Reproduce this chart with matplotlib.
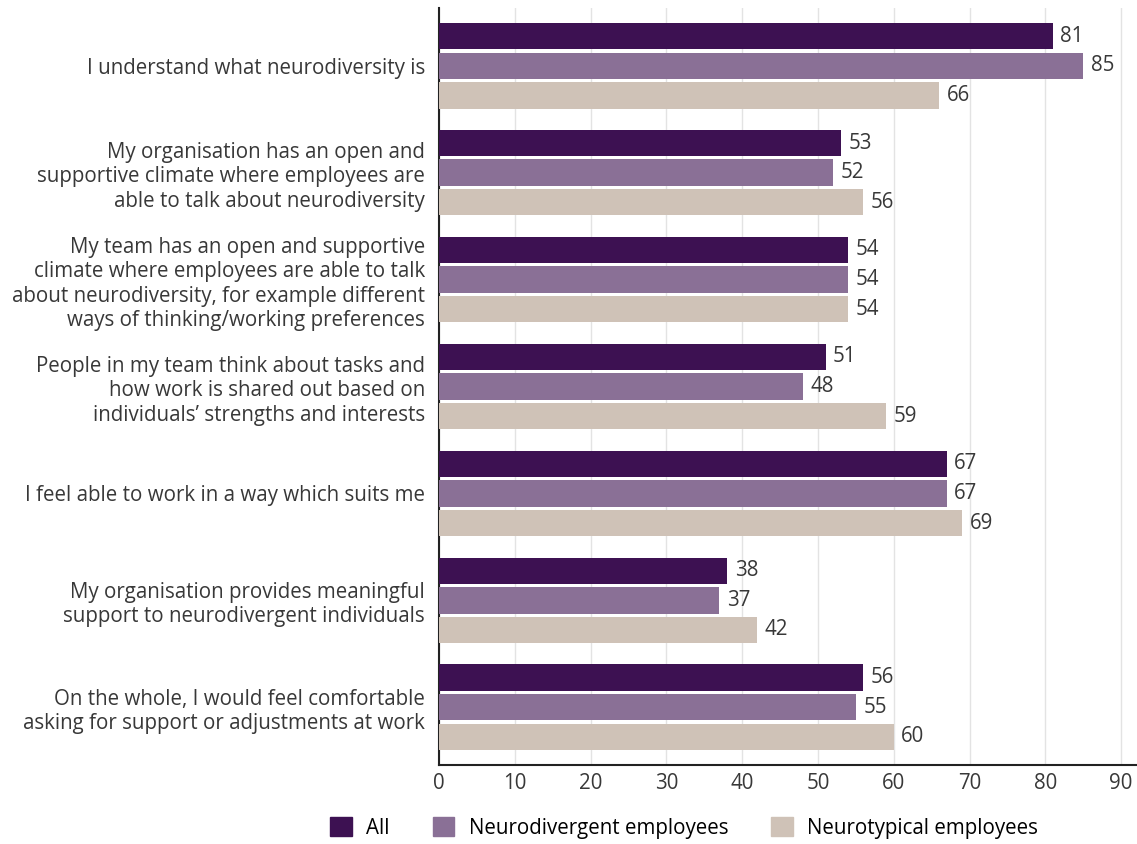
import matplotlib
matplotlib.use("Agg")
import matplotlib.pyplot as plt
from matplotlib.patches import Patch
import numpy as np

plt.rcParams['font.family'] = ['Open Sans', 'DejaVu Sans']

categories = [
    "I understand what neurodiversity is",
    "My organisation has an open and\nsupportive climate where employees are\nable to talk about neurodiversity",
    "My team has an open and supportive\nclimate where employees are able to talk\nabout neurodiversity, for example different\nways of thinking/working preferences",
    "People in my team think about tasks and\nhow work is shared out based on\nindividuals\u2019 strengths and interests",
    "I feel able to work in a way which suits me",
    "My organisation provides meaningful\nsupport to neurodivergent individuals",
    "On the whole, I would feel comfortable\nasking for support or adjustments at work",
]
series_names = ["All", "Neurodivergent employees", "Neurotypical employees"]
all_vals = [81, 53, 54, 51, 67, 38, 56]
nd_vals = [85, 52, 54, 48, 67, 37, 55]
nt_vals = [66, 56, 54, 59, 69, 42, 60]
colors = ["#3D1152", "#8A7096", "#CFC2B7"]
xticks = [0, 10, 20, 30, 40, 50, 60, 70, 80, 90]
text_color = '#383838'
fs = 14.8

fig = plt.figure(figsize=(11.37, 8.44), dpi=100)
ax = fig.add_axes([439/1137, 1 - 765/844, (1137-439)/1137, (765-8)/844])

y = np.arange(len(categories))
step = 0.277
h = 0.247
for i, (vals, c) in enumerate(zip([all_vals, nd_vals, nt_vals], colors)):
    pos = y + (i - 1) * step
    ax.barh(pos, vals, height=h, color=c, zorder=3)
    for p, v in zip(pos, vals):
        ax.text(v + 1.0, p, str(v), va='center', ha='left', fontsize=fs, color=text_color)

ax.set_xlim(0, 92.1)
ax.set_ylim(len(categories) - 0.46, -0.54)
ax.set_xticks(xticks)
ax.set_xticklabels([str(t) for t in xticks], fontsize=fs, color=text_color)
ax.set_yticks(y)
ax.set_yticklabels(categories, fontsize=fs, color=text_color, linespacing=1.22)
ax.tick_params(axis='both', length=0)
ax.tick_params(axis='y', pad=10)
ax.tick_params(axis='x', pad=6)
ax.grid(axis='x', color='#E3E3E3', linewidth=1, zorder=0)
for s in ['top', 'right']:
    ax.spines[s].set_visible(False)
for s in ['left', 'bottom']:
    ax.spines[s].set_color('#222222')
    ax.spines[s].set_linewidth(1.5)

handles = [Patch(color=c) for c in colors]
fig.legend(handles, series_names, loc='center', bbox_to_anchor=(684/1137, 1 - 828/844),
           ncol=3, frameon=False, fontsize=fs, handlelength=1.05, handleheight=1.05,
           columnspacing=2.1, handletextpad=0.7)

fig.savefig("out.png", dpi=100)
